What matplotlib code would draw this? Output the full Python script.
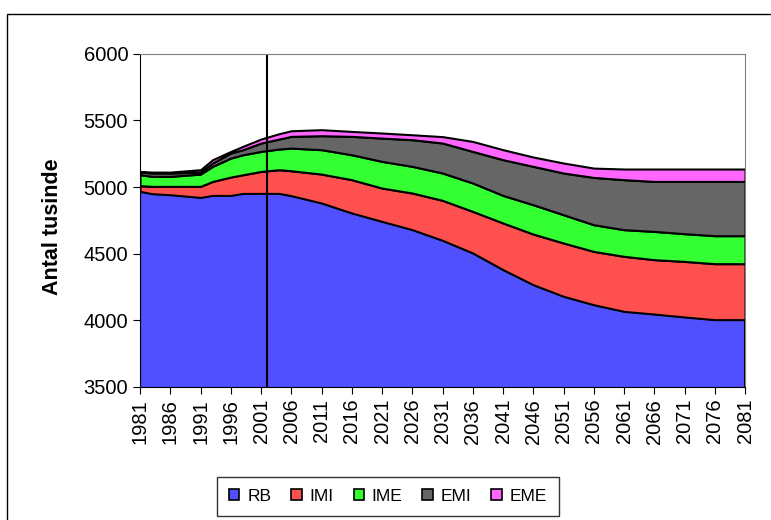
import matplotlib.pyplot as plt
from matplotlib.patches import Rectangle, Patch

plt.rcParams['font.family'] = ['Liberation Sans', 'DejaVu Sans']

# År
years = [1981, 1983, 1986, 1991, 1993, 1996, 1998, 2001, 2004, 2006, 2011, 2016,
         2021, 2026, 2031, 2036, 2041, 2046, 2051, 2056, 2061, 2066, 2071, 2076, 2081]

# Komponenter (tusinde)
rb = [4967, 4950, 4942, 4922, 4937, 4937, 4952, 4952, 4952, 4935, 4880, 4805,
      4742, 4680, 4600, 4505, 4380, 4267, 4180, 4117, 4067, 4047, 4025, 4005, 4005]
imi = [43, 55, 63, 83, 105, 138, 140, 165, 178, 187, 217, 250,
       250, 275, 300, 312, 350, 380, 400, 400, 413, 408, 417, 420, 420]
ime = [82, 75, 75, 92, 113, 142, 150, 150, 155, 170, 183, 187,
       200, 200, 205, 213, 207, 220, 212, 200, 200, 212, 208, 210, 210]
emi = [20, 25, 25, 15, 25, 38, 38, 63, 75, 88, 105, 138,
       175, 200, 225, 237, 268, 288, 313, 355, 375, 375, 392, 407, 407]
eme = [5, 7, 7, 18, 25, 12, 25, 30, 40, 42, 45, 37,
       38, 37, 48, 75, 75, 70, 75, 70, 80, 93, 93, 93, 93]

labels = ['RB', 'IMI', 'IME', 'EMI', 'EME']
colors = ['#5050FF', '#FF5050', '#33FF33', '#666666', '#FF66FF']

tick_years = list(range(1981, 2082, 5))
skillelinje = 2002

fig = plt.figure(figsize=(7.71, 5.2), dpi=100)
ax = fig.add_axes([0.1816, 0.2558, 0.7847, 0.6409])

ax.stackplot(years, rb, imi, ime, emi, eme, colors=colors,
             edgecolor='black', linewidth=1.5)
ax.axvline(skillelinje, color='black', lw=1.5)

ax.set_xlim(1981, 2081)
ax.set_ylim(3500, 6000)
ax.set_yticks(range(3500, 6001, 500))
ax.set_xticks(tick_years)
ax.set_xticklabels([str(y) for y in tick_years], rotation=90, fontsize=14.5)
ax.tick_params(axis='y', labelsize=14.5, length=5, direction='out')
ax.tick_params(axis='x', length=5, direction='out')
ax.set_ylabel('Antal tusinde', fontsize=15.5, fontweight='bold')
ax.yaxis.set_label_coords(-0.127, 0.48)

for side in ['top', 'right']:
    ax.spines[side].set_color('#808080')
for side in ['left', 'bottom']:
    ax.spines[side].set_color('black')

# Ydre ramme
fig.patches.append(Rectangle((7 / 771, -0.05), 1.1, 1.05 - 14 / 520,
                             transform=fig.transFigure, fill=False,
                             edgecolor='black', lw=1))

handles = [Patch(facecolor=c, edgecolor='black', lw=1.2) for c in colors]
leg = fig.legend(handles, labels, ncol=5, loc='center',
                 bbox_to_anchor=(388 / 771, 1 - 496.5 / 520),
                 fontsize=12.5, frameon=True, fancybox=False, edgecolor='black',
                 handlelength=0.6, handleheight=0.6, columnspacing=1.15,
                 handletextpad=0.45, borderpad=0.7)
leg.get_frame().set_linewidth(1)

fig.savefig('out.png', dpi=100)
